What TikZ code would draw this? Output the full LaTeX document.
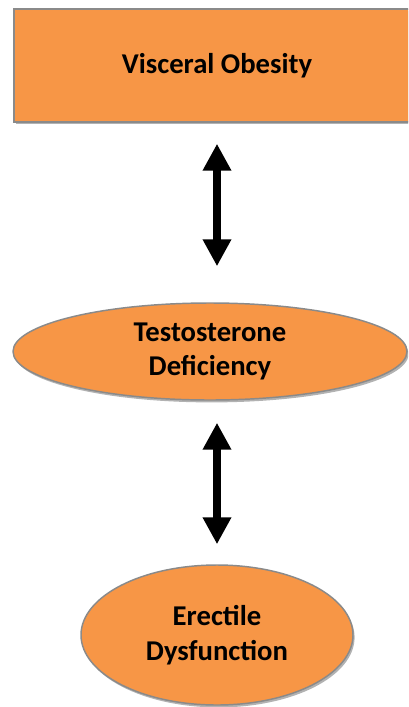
\documentclass[tikz,border=0pt]{standalone}
\usepackage{fontspec}
\setmainfont{Carlito}
\usetikzlibrary{shapes.geometric,arrows.meta,shadows}

\definecolor{boxorange}{RGB}{247,150,70}
\definecolor{boxedge}{RGB}{138,138,138}

\tikzset{every picture/.style={line width=0.75pt}}
\tikzset{
  orangebox/.style={draw=boxedge, line width=1.1pt, fill=boxorange, inner sep=0pt,
    align=center, font=\bfseries\fontsize{21.5}{26}\selectfont,
    drop shadow={shadow xshift=1.2pt, shadow yshift=-1.8pt, fill=black, opacity=0.3}},
  twoway/.style={line width=6pt,
    {Triangle[width=20.25pt,length=20.25pt]}-{Triangle[width=20.25pt,length=20.25pt]}}
}

\begin{document}
\begin{tikzpicture}[x=0.75pt,y=0.75pt,yscale=-1,xscale=1]
\useasboundingbox (0,0) rectangle (408,707);
\clip (0,0) rectangle (408,707);

%Rectangle
\node (obesity) [orangebox, rectangle, minimum width=304.5pt, minimum height=84.75pt] at (217,65.5) {Visceral Obesity};
%Ellipse
\node (testo) [orangebox, ellipse, minimum width=295.5pt, minimum height=72.75pt] at (210,351.5) {Testosterone\\Deficiency};
%Ellipse
\node (erectile) [orangebox, ellipse, minimum width=204pt, minimum height=105pt] at (217,635) {Erectile\\Dysfunction};

%Double Arrow
\draw [twoway, shorten <=15.75pt, shorten >=27pt] (obesity.south) -- (obesity.south |- testo.north);
%Double Arrow
\draw [twoway, shorten <=16.5pt, shorten >=15pt] (erectile.north |- testo.south) -- (erectile.north);

\end{tikzpicture}
\end{document}
